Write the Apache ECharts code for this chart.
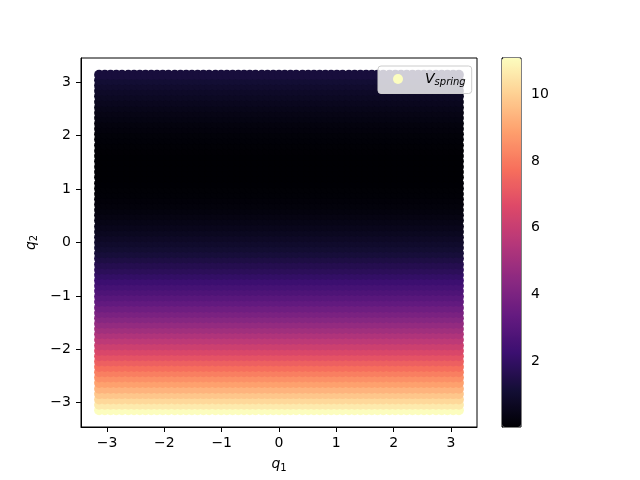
<!DOCTYPE html>
<html>
<head>
<meta charset="utf-8">
<script src="https://cdn.jsdelivr.net/npm/echarts@6/dist/echarts.min.js"></script>
<style>
  html, body { margin: 0; padding: 0; background: #fff; }
  #chart { width: 640px; height: 480px; }
</style>
</head>
<body>
<div id="chart"></div>
<script>
// grid nodes, same for q1 and q2 (from -pi to pi)
const qNodes = [
  -3.14, -3.04, -2.94, -2.84, -2.74, -2.63, -2.53, -2.43, -2.33, -2.23, -2.13,
  -2.03, -1.93, -1.82, -1.72, -1.62, -1.52, -1.42, -1.32, -1.22, -1.11,
  -1.01, -0.91, -0.81, -0.71, -0.61, -0.51, -0.41, -0.30, -0.20, -0.10,
  0.00, 0.10, 0.20, 0.30, 0.41, 0.51, 0.61, 0.71, 0.81, 0.91,
  1.01, 1.11, 1.22, 1.32, 1.42, 1.52, 1.62, 1.72, 1.82, 1.93,
  2.03, 2.13, 2.23, 2.33, 2.43, 2.53, 2.63, 2.74, 2.84, 2.94, 3.04, 3.14
]
// V_spring for each q2 row (does not change along q1)
const vSpring = [
  11.10, 10.65, 10.20, 9.78, 9.35, 8.92, 8.52, 8.12, 7.72, 7.32, 6.92,
  6.52, 6.12, 5.72, 5.35, 4.98, 4.62, 4.27, 3.94, 3.62, 3.30,
  3.02, 2.75, 2.50, 2.25, 2.02, 1.80, 1.60, 1.40, 1.21, 1.05,
  0.90, 0.77, 0.65, 0.53, 0.42, 0.33, 0.25, 0.18, 0.13, 0.09,
  0.06, 0.04, 0.03, 0.02, 0.02, 0.02, 0.03, 0.05, 0.07, 0.10,
  0.14, 0.19, 0.25, 0.32, 0.40, 0.49, 0.59, 0.70, 0.82, 0.95, 1.09, 1.24
]
const axisTicks = [-3, -2, -1, 0, 1, 2, 3]
const cbarTicks = [2, 4, 6, 8, 10]
const vMin = 0.02
const vMax = 11.1

const magma = ['#000004', '#140e36', '#3b0f70', '#641a80', '#8c2981', '#b73779',
  '#de4968', '#f7705c', '#fe9f6d', '#fecf92', '#fcfdbf']

const points = []
qNodes.forEach((q2, j) => {
  qNodes.forEach((q1) => points.push([q1, q2, vSpring[j]]))
})

const minus = (v) => String(v).replace('-', '\u2212')
const font = 'DejaVu Sans'
const subRich = {
  q: { fontFamily: font, fontStyle: 'italic', fontSize: 14, color: '#000' },
  s: { fontFamily: font, fontSize: 10, color: '#000', padding: [7, 0, 0, 0] },
}

const chart = echarts.init(document.getElementById('chart'))
chart.setOption({
  animation: false,
  textStyle: { fontFamily: font },
  grid: [
    { left: 81, right: 163, top: 58, bottom: 53, show: true, borderColor: '#000', borderWidth: 1 },
    { left: 502, width: 19, top: 58, height: 369, show: true, borderColor: '#000', borderWidth: 1 },
  ],
  xAxis: [
    {
      gridIndex: 0,
      type: 'value',
      min: -3.456,
      max: 3.456,
      axisLine: { show: true, onZero: false, lineStyle: { color: '#000', width: 1 } },
      axisTick: { show: true, length: 5, customValues: axisTicks, lineStyle: { color: '#000' } },
      axisLabel: { customValues: axisTicks, formatter: minus, color: '#000', fontSize: 14, margin: 9 },
      splitLine: { show: false },
      name: '{q|q}{s|1}',
      nameLocation: 'middle',
      nameGap: 29,
      nameTextStyle: { rich: subRich },
    },
    { gridIndex: 1, type: 'value', min: 0, max: 1, show: false },
  ],
  yAxis: [
    {
      gridIndex: 0,
      type: 'value',
      min: -3.456,
      max: 3.456,
      axisLine: { show: true, onZero: false, lineStyle: { color: '#000', width: 1 } },
      axisTick: { show: true, length: 5, customValues: axisTicks, lineStyle: { color: '#000' } },
      axisLabel: { customValues: axisTicks, formatter: minus, color: '#000', fontSize: 14, margin: 10 },
      splitLine: { show: false },
      name: '{q|q}{s|2}',
      nameLocation: 'middle',
      nameGap: 36,
      nameRotate: 90,
      nameTextStyle: { rich: subRich },
    },
    {
      gridIndex: 1,
      type: 'value',
      position: 'right',
      min: vMin,
      max: vMax,
      axisLine: { show: true, lineStyle: { color: '#000', width: 1 } },
      axisTick: { show: true, length: 5, customValues: cbarTicks, lineStyle: { color: '#000' } },
      axisLabel: { customValues: cbarTicks, color: '#000', fontSize: 14, margin: 10 },
      splitLine: { show: false },
    },
  ],
  visualMap: {
    type: 'continuous',
    seriesIndex: 0,
    dimension: 2,
    min: vMin,
    max: vMax,
    calculable: false,
    hoverLink: false,
    text: null,
    padding: 0,
    left: 502,
    top: 58,
    itemWidth: 19,
    itemHeight: 369,
    inRange: { color: magma, opacity: 1 },
  },
  legend: {
    left: 378,
    top: 66,
    padding: [6, 6, 6, 15],
    backgroundColor: 'rgba(255,255,255,0.8)',
    borderColor: '#cccccc',
    borderWidth: 1,
    borderRadius: 3,
    itemWidth: 10,
    itemHeight: 10,
    icon: 'circle',
    data: [{ name: 'V_spring', itemStyle: { color: '#fcfdbf', opacity: 1 } }],
    formatter: () => '{v|V}{s|spring}',
    textStyle: {
      rich: {
        v: { fontFamily: font, fontStyle: 'italic', fontSize: 14, color: '#000', padding: [0, 0, 0, 17] },
        s: { fontFamily: font, fontStyle: 'italic', fontSize: 10, color: '#000', padding: [7, 0, 0, 0] },
      },
    },
  },
  series: [
    {
      name: 'V_spring',
      type: 'scatter',
      xAxisIndex: 0,
      yAxisIndex: 0,
      symbol: 'circle',
      symbolSize: 10,
      progressive: 0,
      large: false,
      silent: true,
      itemStyle: { opacity: 1 },
      data: points,
    },
  ],
})
</script>
</body>
</html>
